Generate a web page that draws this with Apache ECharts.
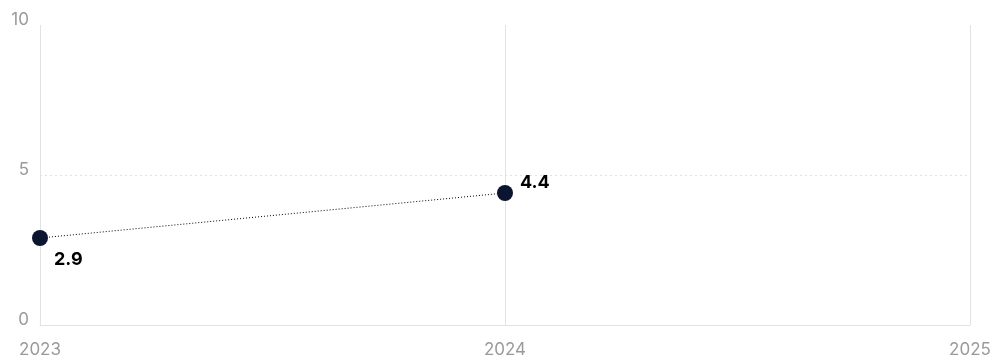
<!DOCTYPE html>
<html><head><meta charset="utf-8">
<script src="https://cdn.jsdelivr.net/npm/echarts@6/dist/echarts.min.js"></script>
<style>html,body{margin:0;padding:0;background:#fff}#c{width:994px;height:359px}</style>
</head><body><div id="c"></div>
<script>
const categories = ['2023', '2024', '2025'];
const values = [2.9, 4.4, null];
const yTicks = [0, 5, 10];

const labelOffsets = [[1, 22], [2, -10], [0, 0]];
const chart = echarts.init(document.getElementById('c'));
chart.setOption({
  animation: false,
  grid: { left: 40, right: 24, top: 25, bottom: 34, containLabel: false },
  xAxis: {
    type: 'category', data: categories, boundaryGap: false,
    axisLine: { show: true, lineStyle: { color: '#e2e2e2', width: 1 } },
    axisTick: { show: false },
    axisLabel: { color: '#9a9a9a', fontSize: 17, fontFamily: 'Inter', margin: 16, showMaxLabel: true, showMinLabel: true },
    splitLine: { show: true, lineStyle: { color: '#e2e2e2', width: 1 } }
  },
  yAxis: {
    type: 'value', min: yTicks[0], max: yTicks[2], interval: yTicks[1] - yTicks[0],
    axisLine: { show: false }, axisTick: { show: false },
    axisLabel: { color: '#9a9a9a', fontSize: 17, fontFamily: 'Inter', margin: 11, verticalAlign: 'bottom', lineHeight: 18, padding: [0,0,-4,0] },
    splitLine: { show: true, lineStyle: { color: ['transparent', '#e2e2e2', 'transparent'], type: [2, 3], width: 1 } }
  },
  series: [{
    type: 'line',
    data: values.map((v, i) => ({
      value: v,
      label: { show: v != null, position: 'right', offset: labelOffsets[i] }
    })),
    symbol: 'circle', symbolSize: 16,
    itemStyle: { color: '#0c1530' },
    lineStyle: { color: '#000', width: 1, type: [1, 2] },
    label: { color: '#000', fontWeight: 'bold', fontSize: 18, fontFamily: 'Inter', formatter: p => p.value.toFixed(1) },
    z: 5
  }]
});
</script></body></html>
